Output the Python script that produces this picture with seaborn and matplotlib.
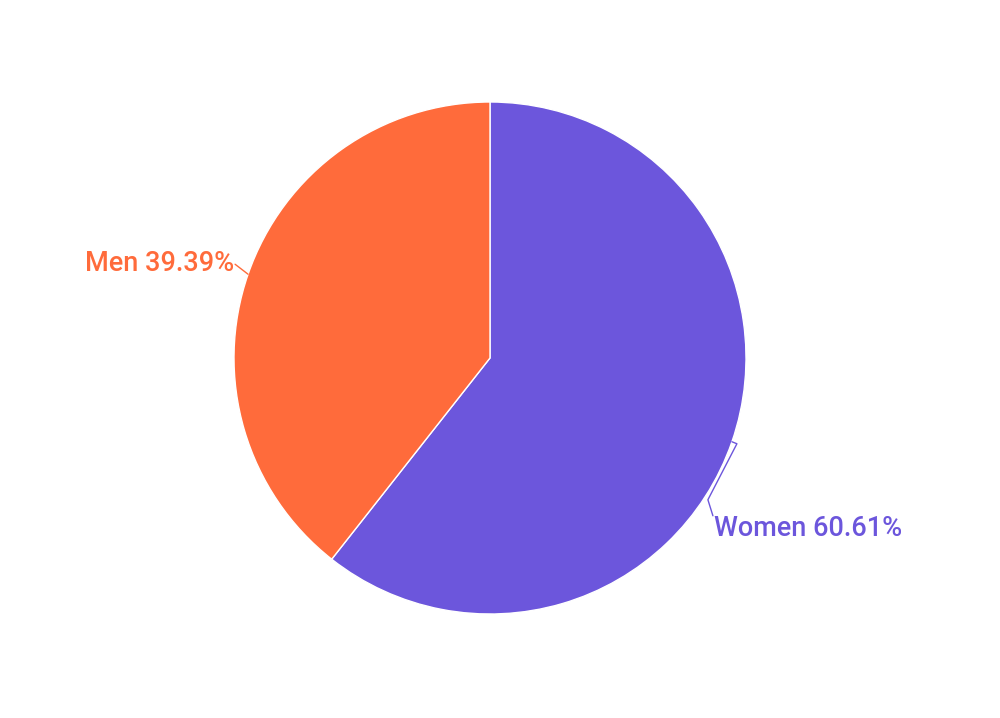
import numpy as np
import matplotlib
matplotlib.use("Agg")
import matplotlib.pyplot as plt
import seaborn as sns

labels = ["Women", "Men"]
values = [60.61, 39.39]
colors = ["#6C56DC", "#FF6B3B"]

sns.set_theme(style="white")
plt.rcParams['font.family'] = ['Roboto', 'DejaVu Sans']

W, H = 1000, 718
fig = plt.figure(figsize=(W / 100, H / 100), dpi=100)
ax = fig.add_axes([0, 0, 1, 1])

cx, cy, r = 490, H - 358, 256
wedges, _ = ax.pie(values, colors=colors, startangle=90, counterclock=False,
                   center=(cx, cy), radius=r, frame=True,
                   wedgeprops=dict(edgecolor="white", linewidth=1))
ax.set_xlim(0, W)
ax.set_ylim(0, H)
ax.set_aspect("equal")
ax.axis("off")

total = sum(values)
cum = 0
fs = 19.5
for lab, v, col in zip(labels, values, colors):
    mid = (cum + v / 2) / total
    cum += v
    ang = np.deg2rad(90 - 360 * mid)
    ex, ey = cx + r * np.cos(ang), cy + r * np.sin(ang)
    txt = f"{lab} {v:.2f}%"
    if np.cos(ang) > 0:
        pts = [(ex, ey), (ex + 5, ey - 2), (ex - 24, ey - 58), (ex - 19, ey - 74)]
        ax.plot(*zip(*pts), color=col, lw=1)
        ax.text(ex - 18, ey - 87, txt, color=col, fontsize=fs, fontweight="medium",
                ha="left", va="center")
    else:
        pts = [(ex, ey), (ex - 13, ey + 10)]
        ax.plot(*zip(*pts), color=col, lw=1)
        ax.text(ex - 14, ey + 11, txt, color=col, fontsize=fs, fontweight="medium",
                ha="right", va="center")

fig.savefig("out.png", dpi=100)
